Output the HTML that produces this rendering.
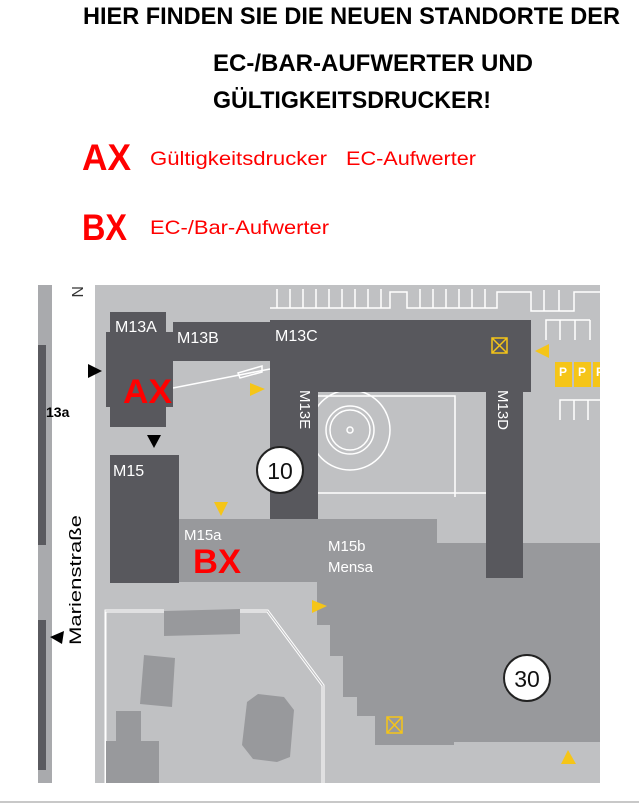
<!DOCTYPE html>
<html><head><meta charset="utf-8"><style>
html,body{margin:0;padding:0;background:#fff;width:639px;height:803px;overflow:hidden}
svg{display:block}
</style></head><body>
<svg width="639" height="803" viewBox="0 0 639 803" xmlns="http://www.w3.org/2000/svg" font-family="Liberation Sans, sans-serif">
<!-- header -->
<g font-family="Liberation Sans Narrow, Liberation Sans, sans-serif" font-weight="bold" fill="#000" font-size="24">
<text x="83" y="24" textLength="537" lengthAdjust="spacingAndGlyphs">HIER FINDEN SIE DIE NEUEN STANDORTE DER</text>
<text x="213" y="71" textLength="320" lengthAdjust="spacingAndGlyphs">EC-/BAR-AUFWERTER UND</text>
<text x="213" y="108" textLength="278" lengthAdjust="spacingAndGlyphs">GÜLTIGKEITSDRUCKER!</text>
</g>
<g fill="#f00" font-family="Liberation Sans Narrow, Liberation Sans, sans-serif">
<text x="82" y="170" font-size="37" font-weight="bold" textLength="49" lengthAdjust="spacingAndGlyphs">AX</text>
<text x="150" y="165" font-size="19" textLength="177" lengthAdjust="spacingAndGlyphs">Gültigkeitsdrucker</text>
<text x="346" y="165" font-size="19" textLength="130" lengthAdjust="spacingAndGlyphs">EC-Aufwerter</text>
<text x="82" y="240" font-size="37" font-weight="bold" textLength="45" lengthAdjust="spacingAndGlyphs">BX</text>
<text x="150" y="234" font-size="19" textLength="179" lengthAdjust="spacingAndGlyphs">EC-/Bar-Aufwerter</text>
</g>
<!-- map -->
<rect x="38" y="285" width="562" height="498" fill="#c0c1c3"/>
<rect x="38" y="285" width="14" height="498" fill="#a9aaad"/>
<rect x="38" y="345" width="8" height="200" fill="#5a5a5f"/>
<rect x="38" y="620" width="8" height="150" fill="#5a5a5f"/>
<rect x="52" y="285" width="43" height="498" fill="#fff"/>
<!-- parking lines -->
<g stroke="#fff" stroke-width="1.5" fill="none">
<path d="M270 308 H390 V292 H407 V308 H497 V292 H531 V311 H574 V292 H600"/>
<path d="M277 289 V308 M290 289 V308 M303 289 V308 M316 289 V308 M329 289 V308 M342 289 V308 M355 289 V308 M368 289 V308 M381 289 V308 M420 289 V308 M433 289 V308 M446 289 V308 M459 289 V308 M472 289 V308 M485 289 V308 M544 290 V311 M559 290 V311"/>
<path d="M546 340 V320 H590 M560 320 V340 M575 320 V340 M590 320 V340"/>
<path d="M560 420 V400 H600 M574 400 V420 M588 400 V420"/>
</g>
<!-- courtyard lines -->
<g stroke="#fff" stroke-width="1.5" fill="none">
<path d="M318 396 H455 V497 M318 493 H486"/>
<circle cx="350" cy="430" r="40"/>
<circle cx="350" cy="430" r="24"/>
<circle cx="350" cy="430" r="20"/>
<circle cx="350" cy="430" r="3"/>
<path d="M173 388 L270 369"/>
<path d="M238 373 L262 366 L262 372 L240 378 Z"/>
</g>
<!-- mid gray regions -->
<path d="M179 519 H437 V543 H600 V742 H454 V745 H375 V716 H357 V697 H343 V656 H330 V625 H317 V582 H179 Z" fill="#98999c"/>
<path d="M523 555 H600 V742 H523 Z" fill="#98999c"/>
<!-- lower left -->
<g stroke="#fff" stroke-width="1" fill="none">
<path d="M105 785 V610 H164 M106 785 V612 H164"/>
<path d="M240 610 H268 L324 685 V785 M240 612 H267 L322 686 V785"/>
</g>
<rect x="105" y="612" width="4" height="173" fill="#c0c1c3" opacity="0"/>
<path d="M164 611 L240 609 L240 634 L164 636 Z" fill="#98999c"/>
<path d="M144 655 L175 658 L172 707 L140 704 Z" fill="#98999c"/>
<path d="M116 711 H141 V741 H159 V783 H106 V741 H116 Z" fill="#98999c"/>
<path d="M258 694 L284 697 L294 710 L290 757 L277 762 L253 759 L242 745 L247 702 Z" fill="#98999c"/>
<!-- dark buildings -->
<g fill="#58585d">
<rect x="110" y="312" width="56" height="115"/>
<rect x="106" y="332" width="67" height="75"/>
<rect x="173" y="322" width="97" height="39"/>
<rect x="270" y="320" width="261" height="72"/>
<rect x="270" y="392" width="48" height="127"/>
<rect x="486" y="392" width="37" height="186"/>
<rect x="110" y="455" width="69" height="128"/>
</g>
<!-- labels -->
<g fill="#fff" font-size="16">
<text x="115" y="332">M13A</text>
<text x="177" y="343">M13B</text>
<text x="275" y="341">M13C</text>
<text x="113" y="476">M15</text>
<text x="184" y="540" font-size="15">M15a</text>
<text x="328" y="551" font-size="15">M15b</text>
<text x="328" y="572" font-size="15">Mensa</text>
<text transform="translate(300,390) rotate(90)" font-size="15">M13E</text>
<text transform="translate(498,390) rotate(90)" font-size="15">M13D</text>
</g>
<text x="63" y="291" font-size="16" fill="#333" transform="rotate(90 70 293)">N</text>
<!-- circles -->
<circle cx="280" cy="470" r="23" fill="#fff" stroke="#222" stroke-width="2"/>
<text x="280" y="479" font-size="23" text-anchor="middle" fill="#111">10</text>
<circle cx="527" cy="678" r="23" fill="#fff" stroke="#222" stroke-width="2"/>
<text x="527" y="687" font-size="23" text-anchor="middle" fill="#111">30</text>
<!-- yellow markers -->
<g fill="#f5c518">
<path d="M250 383 L265 389 L250 396 Z"/>
<path d="M549 344 L535 351 L549 358 Z"/>
<path d="M214 502 L228 502 L221 516 Z"/>
<path d="M312 600 L327 606 L312 613 Z"/>
<path d="M561 764 L576 764 L568 750 Z"/>
<rect x="555" y="362" width="17" height="25"/><rect x="574" y="362" width="17" height="25"/><rect x="593" y="362" width="7" height="25"/>
</g>
<g fill="#fff" font-size="12" font-weight="bold"><text x="559" y="376">P</text><text x="578" y="376">P</text><text x="596" y="376">P</text></g>
<g stroke="#f5c518" stroke-width="1.5" fill="none">
<rect x="492" y="338" width="15" height="15"/><path d="M492 338 L507 353 M507 338 L492 353"/>
<rect x="387" y="717" width="15" height="16"/><path d="M387 717 L402 733 M402 717 L387 733"/>
</g>
<!-- black arrows -->
<g fill="#000">
<path d="M88 364 L102 371 L88 378 Z"/>
<path d="M147 435 L161 435 L154 448 Z"/>
<path d="M50 637 L64 631 L62 644 Z"/>
</g>
<text x="46" y="417" font-size="14" font-weight="bold" fill="#000">13a</text>
<text transform="translate(81,645) rotate(-90)" font-size="17" fill="#000" textLength="130" lengthAdjust="spacingAndGlyphs">Marienstraße</text>
<!-- AX BX -->
<g fill="#f00" font-weight="bold" font-family="Liberation Sans Narrow, Liberation Sans, sans-serif">
<text x="123" y="403" font-size="34" textLength="49" lengthAdjust="spacingAndGlyphs">AX</text>
<text x="193" y="573" font-size="34" textLength="48" lengthAdjust="spacingAndGlyphs">BX</text>
</g>
<rect x="0" y="801" width="639" height="2" fill="#c8c8c8"/>
</svg>
</body></html>
